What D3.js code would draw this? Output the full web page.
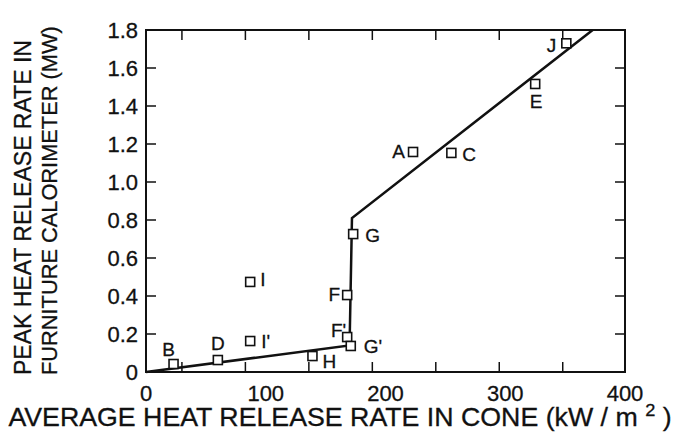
<!DOCTYPE html>
<html>
<head>
<script src="https://d3js.org/d3.v7.min.js"></script>
<style>
  body { margin: 0; background: #fff; overflow: hidden; }
  text { font-family: "Liberation Sans", Arial, sans-serif; fill: #111; stroke: #111; stroke-width: 0.3px; }
</style>
</head>
<body>
<div id="canvas"></div>
<script>
// sample points (cone avg HRR kW/m2, peak HRR MW)
var names = ["B", "D", "I'", "I", "H", "F'", "G'", "F", "G", "A", "C", "E", "J"];
var coneHRR = [23, 60, 87, 87, 139, 168, 171, 168, 173, 223, 255, 325, 351];
var peakHRR = [0.042, 0.063, 0.163, 0.474, 0.084, 0.184, 0.137, 0.405, 0.726, 1.158, 1.153, 1.516, 1.73];
// where each letter sits relative to its square
var labelPos = ["ul", "u", "r", "r", "dr", "l", "r", "l", "r", "l", "r", "d", "l"];

// fitted line
var fitX = [0, 170, 172, 373];
var fitY = [0, 0.14, 0.81, 1.8];

var xTickLabels = [0, 100, 200, 300, 400];
var xTickMarks = [30, 83, 136, 189, 242, 295, 348];
var yTickLabels = [0, 0.2, 0.4, 0.6, 0.8, 1.0, 1.2, 1.4, 1.6, 1.8];

var width = 676, height = 433;
var m = {left: 146, right: 51, top: 30, bottom: 61};

var svg = d3.select("#canvas").append("svg")
    .attr("width", width)
    .attr("height", height);

var x = d3.scaleLinear().domain([0, 400]).range([m.left, width - m.right]);
var y = d3.scaleLinear().domain([0, 1.8]).range([height - m.bottom, m.top]);

var g = svg.append("g");

// frame
g.append("rect")
    .attr("x", x(0)).attr("y", y(1.8))
    .attr("width", x(400) - x(0)).attr("height", y(0) - y(1.8))
    .attr("fill", "none").attr("stroke", "#111").attr("stroke-width", 2);

// inward tick marks
var tl = 10;
g.selectAll(".xtb").data(xTickMarks).enter().append("line")
    .attr("x1", function(d) { return x(d); }).attr("x2", function(d) { return x(d); })
    .attr("y1", y(0)).attr("y2", y(0) - tl)
    .attr("stroke", "#111").attr("stroke-width", 1.5);
g.selectAll(".xtt").data(xTickMarks).enter().append("line")
    .attr("x1", function(d) { return x(d); }).attr("x2", function(d) { return x(d); })
    .attr("y1", y(1.8)).attr("y2", y(1.8) + tl)
    .attr("stroke", "#111").attr("stroke-width", 1.5);
g.selectAll(".ytl").data(yTickLabels.slice(1, -1)).enter().append("line")
    .attr("x1", x(0)).attr("x2", x(0) + tl)
    .attr("y1", function(d) { return y(d); }).attr("y2", function(d) { return y(d); })
    .attr("stroke", "#111").attr("stroke-width", 1.5);
g.selectAll(".ytr").data(yTickLabels.slice(1, -1)).enter().append("line")
    .attr("x1", x(400)).attr("x2", x(400) - tl)
    .attr("y1", function(d) { return y(d); }).attr("y2", function(d) { return y(d); })
    .attr("stroke", "#111").attr("stroke-width", 1.5);

// tick labels
g.selectAll(".xl").data(xTickLabels).enter().append("text")
    .attr("x", function(d) { return x(d); })
    .attr("y", y(0) + 29)
    .attr("text-anchor", "middle")
    .attr("font-size", "22px")
    .text(function(d) { return d; });

g.selectAll(".yl").data(yTickLabels).enter().append("text")
    .attr("x", x(0) - 8)
    .attr("y", function(d) { return y(d) + 8; })
    .attr("text-anchor", "end")
    .attr("font-size", "22px")
    .text(function(d) { return d === 0 ? "0" : d.toFixed(1); });

// fitted line
var pts = fitX.map(function(v, i) { return [v, fitY[i]]; });
g.append("path")
    .attr("d", d3.line().x(function(d) { return x(d[0]); }).y(function(d) { return y(d[1]); })(pts))
    .attr("fill", "none").attr("stroke", "#111").attr("stroke-width", 2.5);

// squares
var s = 9;
var data = names.map(function(n, i) { return {name: n, cx: coneHRR[i], cy: peakHRR[i], pos: labelPos[i]}; });
g.selectAll(".pt").data(data).enter().append("rect")
    .attr("x", function(d) { return x(d.cx) - s / 2; })
    .attr("y", function(d) { return y(d.cy) - s / 2; })
    .attr("width", s).attr("height", s)
    .attr("fill", "#fff").attr("stroke", "#111").attr("stroke-width", 1.6);

var off = {
    ul: [-5, -8, "middle"], u: [0, -10, "middle"], r: [11, 7, "start"],
    dr: [10, 12, "start"], l: [-7, 6, "end"], d: [1, 24, "middle"]
};
// per-letter tweaks
var nudge = {"F'": [6, -6], "I": [-1, -3], "G": [1, 1], "G'": [2, 0], "J": [-3, 3], "A": [-1, 0], "C": [0, 1]};
g.selectAll(".pl").data(data).enter().append("text")
    .attr("x", function(d) { return x(d.cx) + off[d.pos][0] + (nudge[d.name] ? nudge[d.name][0] : 0); })
    .attr("y", function(d) { return y(d.cy) + off[d.pos][1] + (nudge[d.name] ? nudge[d.name][1] : 0); })
    .attr("text-anchor", function(d) { return off[d.pos][2]; })
    .attr("font-size", "19px")
    .text(function(d) { return d.name; });

// axis titles
var xt = svg.append("text")
    .attr("transform", "translate(340,426) scale(1.07,1)")
    .attr("text-anchor", "middle")
    .attr("font-size", "25px");
xt.append("tspan").text("AVERAGE HEAT RELEASE RATE IN CONE (kW / m ");
xt.append("tspan").attr("font-size", "17px").attr("dy", -10).text("2");
xt.append("tspan").attr("dy", 10).text(" )");

svg.append("text")
    .attr("transform", "translate(31,375) rotate(-90)")
    .attr("font-size", "23px")
    .text("PEAK HEAT RELEASE RATE IN");
svg.append("text")
    .attr("transform", "translate(57,375) rotate(-90)")
    .attr("font-size", "21.8px")
    .text("FURNITURE CALORIMETER (MW)");
</script>
</body>
</html>
